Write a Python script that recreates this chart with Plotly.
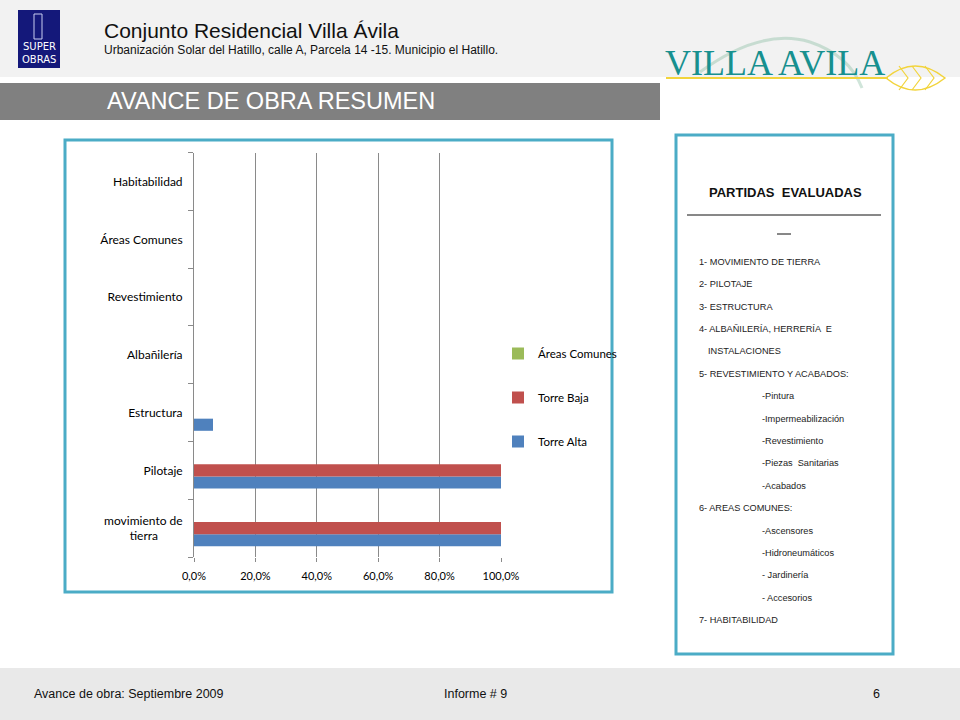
import plotly.graph_objects as go

# ---- data ----
categories = ["movimiento de tierra", "Pilotaje", "Estructura", "Albañilería",
              "Revestimiento", "Áreas Comunes", "Habitabilidad"]
cat_labels = ["movimiento de<br>tierra\u00a0\u00a0\u00a0\u00a0\u00a0\u00a0\u00a0\u00a0", "Pilotaje", "Estructura", "Albañilería",
              "Revestimiento", "Áreas Comunes", "Habitabilidad"]
torre_alta = [1.0, 1.0, 0.062, 0, 0, 0, 0]
torre_baja = [1.0, 1.0, 0, 0, 0, 0, 0]
areas_comunes = [0, 0, 0, 0, 0, 0, 0]
series_names = ["Torre Alta", "Torre Baja", "Áreas Comunes"]
series_colors = ["#4f81bd", "#c0504d", "#9bbb59"]
legend_ranks = [3, 2, 1]
x_ticks = [0, 0.2, 0.4, 0.6, 0.8, 1.0]

partidas = [
    ("1- MOVIMIENTO DE TIERRA", 0), ("2- PILOTAJE", 0), ("3- ESTRUCTURA", 0),
    ("4- ALBAÑILERÍA, HERRERÍA  E", 0), ("INSTALACIONES", 1),
    ("5- REVESTIMIENTO Y ACABADOS:", 0), ("-Pintura", 2), ("-Impermeabilización", 2),
    ("-Revestimiento", 2), ("-Piezas  Sanitarias", 2), ("-Acabados", 2),
    ("6- AREAS COMUNES:", 0), ("-Ascensores", 2), ("-Hidroneumáticos", 2),
    ("- Jardinería", 2), ("- Accesorios", 2), ("7- HABITABILIDAD", 0),
]

W, H = 960, 720
def px(x): return x / W
def py(y): return 1 - y / H

fig = go.Figure()
for name, vals, col, rk in zip(series_names, [torre_alta, torre_baja, areas_comunes], series_colors, legend_ranks):
    fig.add_trace(go.Bar(
        y=categories, x=vals, name=name, orientation="h",
        marker=dict(color=col, line=dict(width=0)),
        legendgroup=name, legendrank=rk, hoverinfo="x+y+name",
    ))

shapes = []
annotations = []

# header background
shapes.append(dict(type="rect", xref="paper", yref="paper", x0=0, x1=1, y0=py(77), y1=1,
                   fillcolor="#f2f2f2", line=dict(width=0), layer="below"))
# title bar
shapes.append(dict(type="rect", xref="paper", yref="paper", x0=0, x1=px(660), y0=py(120), y1=py(83),
                   fillcolor="#808080", line=dict(width=0), layer="below"))
# footer band
shapes.append(dict(type="rect", xref="paper", yref="paper", x0=0, x1=1, y0=0, y1=py(668),
                   fillcolor="#e9e9e9", line=dict(width=0), layer="below"))
# chart frame
shapes.append(dict(type="rect", xref="paper", yref="paper", x0=px(65), x1=px(612), y0=py(592), y1=py(140),
                   fillcolor="rgba(0,0,0,0)", line=dict(color="#4bacc6", width=3), layer="below"))
# right panel frame
shapes.append(dict(type="rect", xref="paper", yref="paper", x0=px(676), x1=px(893), y0=py(654), y1=py(135),
                   fillcolor="rgba(0,0,0,0)", line=dict(color="#4bacc6", width=3), layer="below"))

# Super Obras logo
shapes.append(dict(type="rect", xref="paper", yref="paper", x0=px(18), x1=px(60), y0=py(68), y1=py(10),
                   fillcolor="#14187a", line=dict(width=0)))
shapes.append(dict(type="rect", xref="paper", yref="paper", x0=px(34), x1=px(42), y0=py(39), y1=py(14),
                   fillcolor="rgba(0,0,0,0)", line=dict(color="#c8cdf0", width=1)))
annotations.append(dict(xref="paper", yref="paper", x=px(39), y=py(47), text="SUPER", showarrow=False,
                        font=dict(family="DejaVu Sans", size=10, color="white"), xanchor="center", yanchor="middle"))
annotations.append(dict(xref="paper", yref="paper", x=px(39), y=py(59), text="OBRAS", showarrow=False,
                        font=dict(family="DejaVu Sans", size=10, color="white"), xanchor="center", yanchor="middle"))

# header titles
annotations.append(dict(xref="paper", yref="paper", x=px(102), y=py(31), text="Conjunto Residencial Villa Ávila",
                        showarrow=False, xanchor="left", yanchor="middle",
                        font=dict(family="Liberation Sans", size=21, color="#111")))
annotations.append(dict(xref="paper", yref="paper", x=px(102), y=py(50),
                        text="Urbanización Solar del Hatillo, calle A, Parcela 14 -15. Municipio el Hatillo.",
                        showarrow=False, xanchor="left", yanchor="middle",
                        font=dict(family="Liberation Sans", size=12, color="#111")))
annotations.append(dict(xref="paper", yref="paper", x=px(105), y=py(101), text="AVANCE DE OBRA RESUMEN",
                        showarrow=False, xanchor="left", yanchor="middle",
                        font=dict(family="Liberation Sans", size=23.5, color="white")))

# Villa Avila logo
shapes.append(dict(type="path", xref="paper", yref="paper",
                   path=f"M {px(700)},{py(72)} C {px(730)},{py(50)} {px(770)},{py(30)} {px(810)},{py(42)} "
                        f"C {px(840)},{py(52)} {px(855)},{py(70)} {px(862)},{py(88)}",
                   line=dict(color="rgba(120,180,150,0.35)", width=3)))
annotations.append(dict(xref="paper", yref="paper", x=px(663), y=py(63), text="VILLA AVILA",
                        showarrow=False, xanchor="left", yanchor="middle",
                        font=dict(family="Liberation Serif", size=36, color="#17908f")))
shapes.append(dict(type="line", xref="paper", yref="paper", x0=px(666), x1=px(888), y0=py(78), y1=py(78),
                   line=dict(color="#f2d43c", width=2)))
shapes.append(dict(type="path", xref="paper", yref="paper",
                   path=f"M {px(886)},{py(78)} Q {px(915)},{py(54)} {px(945)},{py(78)} Q {px(915)},{py(102)} {px(886)},{py(78)} Z",
                   line=dict(color="#f2d43c", width=1.5), fillcolor="rgba(0,0,0,0)"))
for vx in [899, 912, 925]:
    shapes.append(dict(type="path", xref="paper", yref="paper",
                       path=f"M {px(vx)},{py(66)} L {px(vx+9)},{py(78)} L {px(vx)},{py(90)}",
                       line=dict(color="#f2d43c", width=1.2)))

# right panel text
annotations.append(dict(xref="paper", yref="paper", x=px(785), y=py(193), text="<b>PARTIDAS  EVALUADAS</b>",
                        showarrow=False, xanchor="center", yanchor="middle",
                        font=dict(family="Liberation Sans", size=13, color="#111")))
shapes.append(dict(type="line", xref="paper", yref="paper", x0=px(687), x1=px(881), y0=py(215), y1=py(215),
                   line=dict(color="#111", width=1)))
shapes.append(dict(type="line", xref="paper", yref="paper", x0=px(777), x1=px(791), y0=py(234), y1=py(234),
                   line=dict(color="#111", width=1)))
indent_x = {0: 697, 1: 706, 2: 760}
for i, (txt, lvl) in enumerate(partidas):
    yy = 262 + i * 22.375
    annotations.append(dict(xref="paper", yref="paper", x=px(indent_x[lvl]), y=py(yy), text=txt,
                            showarrow=False, xanchor="left", yanchor="middle",
                            font=dict(family="Liberation Sans", size=9.2, color="#222")))

# footer texts
for xx, txt in [(32, "Avance de obra: Septiembre 2009"), (442, "Informe # 9"), (871, "6")]:
    annotations.append(dict(xref="paper", yref="paper", x=px(xx), y=py(694), text=txt,
                            showarrow=False, xanchor="left", yanchor="middle",
                            font=dict(family="Liberation Sans", size=12.5, color="#111")))

fig.update_layout(
    width=W, height=H, autosize=False,
    margin=dict(l=0, r=0, t=0, b=0, pad=0, autoexpand=False),
    paper_bgcolor="white", plot_bgcolor="white",
    barmode="group", bargap=0.37, bargroupgap=0,
    separators=",.",
    font=dict(family="Lato", size=11, color="#000"),
    shapes=shapes, annotations=annotations,
    showlegend=True,
    legend=dict(x=px(498), y=py(339), xanchor="left", yanchor="top",
                traceorder="grouped", tracegroupgap=25,
                font=dict(family="Lato", size=11.5, color="#000"),
                bgcolor="rgba(0,0,0,0)", itemwidth=30),
    xaxis=dict(domain=[px(194), px(501)], range=[0, 1.0], tickvals=x_ticks, tickformat=".1%",
               showgrid=True, gridcolor="#8a8a8a", gridwidth=1, zeroline=False, automargin=False,
               showline=False, ticks="outside", ticklen=4, tickcolor="#8a8a8a", ticklabelstandoff=5,
               tickfont=dict(family="Lato", size=11, color="#000"), fixedrange=True),
    yaxis=dict(domain=[py(557), py(152.7)], type="category", categoryorder="array",
               categoryarray=categories, tickvals=categories, ticktext=cat_labels,
               tickson="boundaries", ticks="outside", ticklen=5, tickcolor="#8a8a8a", automargin=False,
               ticklabelstandoff=8,
               showline=True, linecolor="#8a8a8a", linewidth=1, showgrid=False,
               tickfont=dict(family="Lato", size=12, color="#000"), fixedrange=True),
)

fig.write_html("out.html", config={"displayModeBar": False},
               post_script="document.body.style.margin='0';")
